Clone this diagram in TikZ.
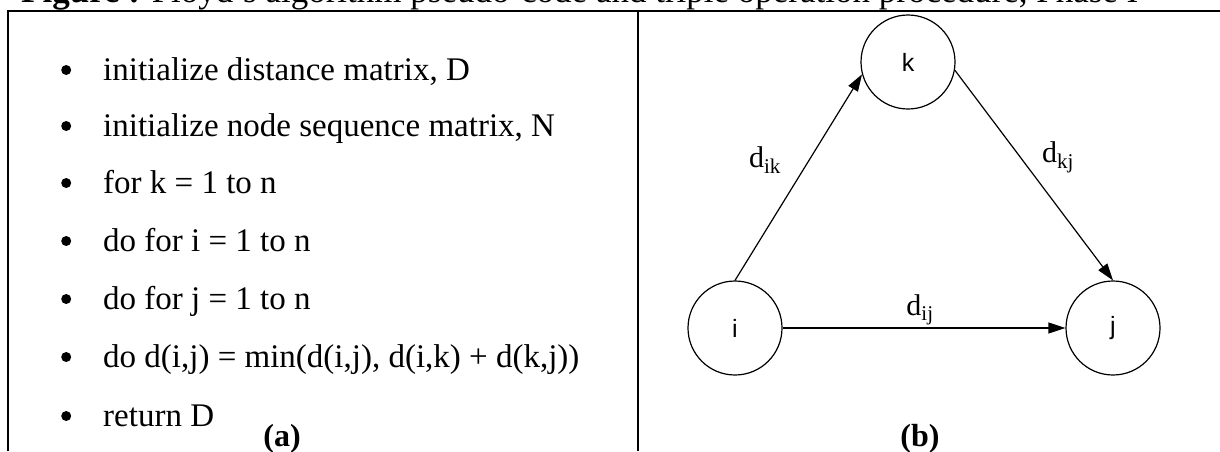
\documentclass[tikz,border=0pt]{standalone}
\usepackage{fontspec}
\setmainfont{Liberation Serif}
\newfontfamily\vertexfont{Liberation Sans}
\usetikzlibrary{arrows.meta}

\tikzset{
  codeline/.style={anchor=base west, inner sep=0pt, font=\fontsize{33}{38}\selectfont},
  vertex/.style={draw, circle, line width=1.2pt, minimum size=94pt, inner sep=0pt,
    font=\vertexfont\fontsize{25}{30}\selectfont},
  edge/.style={-{Triangle[length=17pt,width=11pt]}, line width=1.2pt},
  weight/.style={inner sep=0pt, font=\fontsize{30}{34}\selectfont},
  panel/.style={anchor=base, inner sep=0pt, font=\bfseries\fontsize{32}{36}\selectfont}
}
\newcommand{\bul}{\llap{\tikz[baseline=0pt]\fill (0pt,10pt) circle (5pt);\hspace{32pt}}}

\begin{document}
\begin{tikzpicture}[x=1pt,y=-1pt]
  \useasboundingbox (0,0) rectangle (1220,451);
  \clip (0,0) rectangle (1220,451);

  % Caption (cut off at the top)
  \node[codeline, font=\fontsize{35}{40}\selectfont] (caption) at (21,2) {\textbf{Figure :} Floyd's algorithm pseudo-code and triple operation procedure, Phase I};

  % Frame
  \draw[line width=1.6pt] (8,451) -- (8,11) -- (1220,11);
  \draw[line width=1.3pt] (638,11) -- (638,451);

  % Pseudo-code
  \node[codeline] (init d) at (103,80) {\bul initialize distance matrix, D};
  \node[codeline] (init n) at (103,136) {\bul initialize node sequence matrix, N};
  \node[codeline] (loop k) at (103,193) {\bul for k = 1 to n};
  \node[codeline] (loop i) at (103,251) {\bul do for i = 1 to n};
  \node[codeline] (loop j) at (103,309) {\bul do for j = 1 to n};
  \node[codeline] (update) at (103,367) {\bul do d(i,j) = min(d(i,j), d(i,k) + d(k,j))};
  \node[codeline] (return) at (103,426) {\bul return D};
  \node[panel] (label a) at (282,446) {(a)};

  % Triple operation
  \node[vertex] (k) at (908,62) {k};
  \node[vertex] (i) at (735,328) {i};
  \node[vertex] (j) at (1113,328) {j};

  \draw[edge] (i.north) -- (k.195);
  \draw[edge] (k.-10) -- (j.north);
  \draw[edge] (i.east) -- (j.west);

  \node[weight] (w ik) at (765,160) {d\textsubscript{ik}};
  \node[weight] (w kj) at (1058,157) {d\textsubscript{kj}};
  \node[weight] (w ij) at (920,310) {d\textsubscript{ij}};
  \node[panel] (label b) at (920,446) {(b)};
\end{tikzpicture}
\end{document}
